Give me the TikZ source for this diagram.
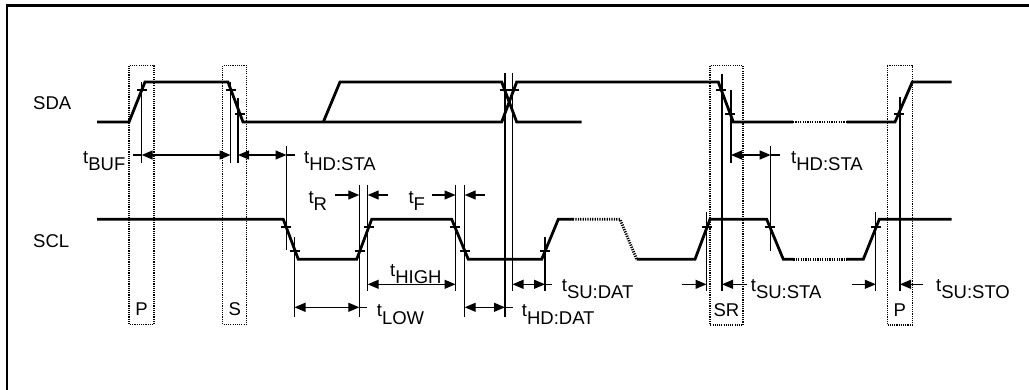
\documentclass[tikz,border=0pt]{standalone}
\usepackage{fontspec}
\setmainfont{Liberation Sans}
\usetikzlibrary{arrows.meta}
\newcommand{\tname}[1]{\raisebox{7pt}{t}#1}

\begin{document}
\begin{tikzpicture}[x=1pt, y=-1pt,
    wave/.style={line width=2.8pt, line join=miter},
    gapwave/.style={line width=2.8pt, dash pattern=on 1.2pt off 1.2pt},
    guide/.style={line width=1.2pt},
    dimline/.style={line width=1.2pt, {Triangle[length=11pt,width=9pt]}-{Triangle[length=11pt,width=9pt]}},
    inarrow/.style={line width=1.2pt, -{Triangle[length=11pt,width=9pt]}},
    marker/.style={line width=1.1pt, dash pattern=on 1.1pt off 1.1pt},
    lbl/.style={anchor=base west, inner sep=0pt, font=\fontsize{18.5}{20}\selectfont}]
    \useasboundingbox (0,0) rectangle (1029,390);

    % Frame
    \draw[line width=2.5pt] (7,390) -- (7,5.5) -- (1029,5.5);

    % Condition boxes
    \draw[marker] (129,65.7) rectangle (154,324.3);
    \draw[marker] (222.7,65.7) rectangle (246.7,324.3);
    \draw[marker] (710,65.7) rectangle (743,325);
    \draw[marker] (887.3,65.7) rectangle (912.3,325);
    \node[lbl, anchor=base] (stop1) at (141.5,315.7) {P};
    \node[lbl, anchor=base] (start) at (234.7,315.7) {S};
    \node[lbl, anchor=base] (restart) at (726.5,316.7) {SR};
    \node[lbl, anchor=base] (stop2) at (899.8,316.7) {P};

    % SDA
    \node[lbl] (sda) at (33,110) {SDA};
    \draw[wave] (97,122) -- (129,122) -- (145,82) -- (228,82) -- (243,122) -- (501.7,122)
        -- (516.7,82) -- (718.3,82) -- (733.3,122) -- (793,122);
    \draw[wave] (323.3,122) -- (340,82) -- (501.7,82) -- (516.7,122) -- (581.7,122);
    \draw[gapwave] (793,122) -- (846.7,122);
    \draw[wave] (846.7,122) -- (895,122) -- (912.3,82) -- (951.7,82);

    % SCL
    \node[lbl] (scl) at (33,247.7) {SCL};
    \draw[wave] (97,219.3) -- (283.3,219.3) -- (298.3,259.3) -- (356.7,259.3) -- (371.7,219.3)
        -- (451.7,219.3) -- (468.3,259.3) -- (541.7,259.3) -- (558.3,219.3) -- (573,219.3);
    \draw[gapwave] (573,219.3) -- (620,219.3) -- (636.7,259.3);
    \draw[wave] (636.7,259.3) -- (695,259.3) -- (710,219.3) -- (766.7,219.3) -- (783.3,259.3)
        -- (793.3,259.3);
    \draw[gapwave] (793.3,259.3) -- (846.7,259.3);
    \draw[wave] (846.7,259.3) -- (863.3,259.3) -- (879.3,219.3) -- (951.7,219.3);

    % Threshold ticks
    \foreach \x/\y in {141.8/90, 231/90, 240/114, 504.7/90, 513.7/90, 721.3/90, 730.3/114, 898.5/114,
                       286.3/227, 295.3/251, 359.7/251, 368.7/227, 455/227, 465/251, 545/251,
                       707/227, 770/227, 876/227}
        \draw[guide] (\x-5,\y) -- (\x+5,\y);

    % Guide lines
    \foreach \x/\a/\b in {141.7/82/163, 230.5/82/163, 238/98/163, 286.5/146/250, 294.5/237/317,
                          359.3/185/317, 367.7/185/291, 455.5/185/291, 464.7/185/317, 505/73/317,
                          512.5/73/291, 545/237/291, 706.5/212/291, 722/74/291, 731/90/163,
                          770.7/146/251, 875.8/212/291, 900/97/291}
        \draw[guide] (\x,\a) -- (\x,\b);

    % t_BUF, t_HD:STA
    \draw[guide] (133,155) -- (141.7,155);
    \draw[dimline] (141.7,155) -- (230.5,155);
    \node[lbl] (tbuf) at (83,170.7) {\tname{BUF}};
    \draw[dimline] (238,155) -- (286.5,155);
    \draw[guide] (286.5,155) -- (295,155);
    \node[lbl] (thdsta) at (304,170.7) {\tname{HD:STA}};
    \draw[dimline] (731,155) -- (770.7,155);
    \draw[guide] (770.7,155) -- (780,155);
    \node[lbl] (thdsta2) at (791,170.7) {\tname{HD:STA}};

    % t_R, t_F
    \draw[inarrow] (335,195) -- (359.3,195);
    \draw[inarrow] (388,195) -- (367.7,195);
    \node[lbl] (trise) at (308.3,210.7) {\tname{R}};
    \draw[inarrow] (431.7,195) -- (455.5,195);
    \draw[inarrow] (485,195) -- (464.7,195);
    \node[lbl] (tfall) at (408.3,210.7) {\tname{F}};

    % t_HIGH, t_SU:DAT, t_SU:STA, t_SU:STO
    \draw[dimline] (367.7,284.3) -- (455.5,284.3);
    \node[lbl] (thigh) at (390,284) {\tname{HIGH}};
    \draw[dimline] (512.5,284.3) -- (545,284.3);
    \draw[guide] (545,284.3) -- (552,284.3);
    \node[lbl] (tsudat) at (561.7,299) {\tname{SU:DAT}};
    \draw[inarrow] (681.7,284.3) -- (706.5,284.3);
    \draw[inarrow] (746.7,284.3) -- (722,284.3);
    \node[lbl] (tsusta) at (750.7,299) {\tname{SU:STA}};
    \draw[inarrow] (851.7,284.3) -- (875.8,284.3);
    \draw[inarrow] (923.3,284.3) -- (900,284.3);
    \node[lbl] (tsusto) at (936,299) {\tname{SU:STO}};

    % t_LOW, t_HD:DAT
    \draw[dimline] (294.5,307.3) -- (359.3,307.3);
    \draw[guide] (359.3,307.3) -- (367,307.3);
    \node[lbl] (tlow) at (376.7,324) {\tname{LOW}};
    \draw[dimline] (464.7,307.3) -- (505,307.3);
    \draw[guide] (505,307.3) -- (513,307.3);
    \node[lbl] (thddat) at (521.7,324) {\tname{HD:DAT}};
\end{tikzpicture}
\end{document}
